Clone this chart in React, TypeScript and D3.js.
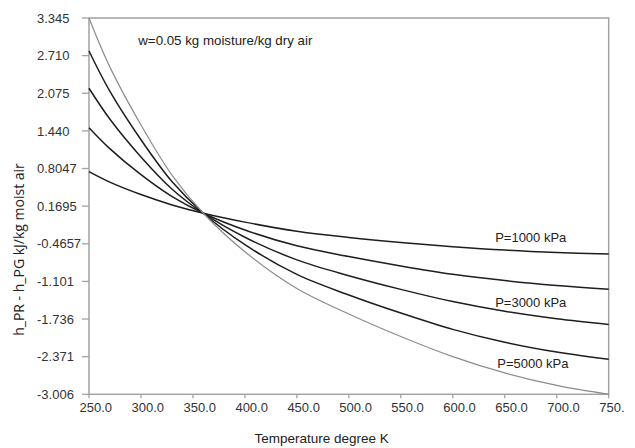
import React from "react";
import * as d3 from "d3";

// Temperatures (K) at which the curves were read
const temps = [250, 270, 300, 330, 360, 400, 450, 500, 550, 600, 650, 700, 750];

// h_PR - h_PG (kJ/kg moist air) for each pressure curve
const p1000 = [0.752, 0.575, 0.365, 0.19, 0.05, -0.1, -0.255, -0.358, -0.443, -0.514, -0.572, -0.612, -0.638];
const p2000 = [1.493, 1.14, 0.7, 0.33, 0.05, -0.233, -0.5, -0.681, -0.84, -0.981, -1.087, -1.17, -1.234];
const p3000 = [2.159, 1.64, 1.0, 0.455, 0.05, -0.356, -0.737, -1.004, -1.235, -1.441, -1.605, -1.731, -1.826];
const p4000 = [2.788, 2.11, 1.29, 0.58, 0.05, -0.48, -0.983, -1.33, -1.635, -1.91, -2.128, -2.294, -2.416];
const p5000 = [3.345, 2.52, 1.54, 0.69, 0.05, -0.6, -1.22, -1.65, -2.03, -2.37, -2.645, -2.855, -3.006];

const seriesList = [p1000, p2000, p3000, p4000, p5000];
const seriesColors = ["#1e1e1e", "#1e1e1e", "#1e1e1e", "#1e1e1e", "#8c8c8c"];
const seriesWidths = [1.5, 1.5, 1.5, 1.5, 1.2];

const xTickValues = [250, 300, 350, 400, 450, 500, 550, 600, 650, 700, 750];
const xTickLabels = ["250.0", "300.0", "350.0", "400.0", "450.0", "500.0", "550.0", "600.0", "650.0", "700.0", "750."];
const yTickLabels = ["3.345", "2.710", "2.075", "1.440", "0.8047", "0.1695", "-0.4657", "-1.101", "-1.736", "-2.371", "-3.006"];

// annotation labels (data coordinates)
const curveLabels = ["P=1000 kPa", "P=3000 kPa", "P=5000 kPa"];
const curveLabelT = [675, 675, 677];
const curveLabelV = [-0.436, -1.528, -2.567];
const noteText = "w=0.05 kg moisture/kg dry air";
const noteT = 297.4;
const noteV = 2.889;

const xTitle = "Temperature degree K";
const yTitle = "h_PR - h_PG kJ/kg moist air";

export default function App() {
  const W = 635;
  const H = 448;
  const left = 89, right = 608.7, top = 18, bottom = 394.3;
  const x = d3.scaleLinear().domain([250, 750]).range([left, right]);
  const y = d3.scaleLinear().domain([-3.006, 3.345]).range([bottom, top]);
  const line = d3
    .line<number>()
    .x((_, i) => x(temps[i]))
    .y((d) => y(d))
    .curve(d3.curveCatmullRom.alpha(0.5));

  const axisColor = "#a3a3a3";
  const font = "'Liberation Sans', Arial, sans-serif";

  return (
    <svg
      width={W}
      height={H}
      style={{ position: "absolute", left: 0, top: 0, background: "#fff" }}
      fontFamily={font}
    >
      <rect x={0} y={0} width={W} height={H} fill="#fff" />
      {/* frame */}
      <rect x={left} y={top} width={right - left} height={bottom - top} fill="none" stroke={axisColor} strokeWidth={1.5} />
      {/* y ticks */}
      {yTickLabels.map((lab, i) => {
        const v = parseFloat(lab);
        const yy = y(v);
        return (
          <g key={"y" + i}>
            <line x1={left - 7} x2={left} y1={yy} y2={yy} stroke={axisColor} strokeWidth={1.3} />
            <text x={37} y={yy} dy="0.36em" fontSize={13} fill="#333">
              {lab}
            </text>
          </g>
        );
      })}
      {/* x ticks */}
      {xTickValues.map((v, i) => (
        <g key={"x" + i}>
          <line x1={x(v)} x2={x(v)} y1={bottom} y2={bottom + 4} stroke={axisColor} strokeWidth={1.3} />
          <text x={x(v) - 9.5} y={bottom + 18} fontSize={13} fill="#333">
            {xTickLabels[i]}
          </text>
        </g>
      ))}
      {/* curves */}
      {seriesList.map((s, i) => (
        <path key={"s" + i} d={line(s) || ""} fill="none" stroke={seriesColors[i]} strokeWidth={seriesWidths[i]} />
      ))}
      {/* curve labels */}
      {curveLabels.map((lab, i) => (
        <text key={"cl" + i} x={x(curveLabelT[i])} y={y(curveLabelV[i])} fontSize={13} textAnchor="middle" fill="#222">
          {lab}
        </text>
      ))}
      <text x={x(noteT)} y={y(noteV)} fontSize={13.3} fill="#222">
        {noteText}
      </text>
      {/* axis titles */}
      <text x={321.7} y={443} fontSize={13.5} textAnchor="middle" fill="#222">
        {xTitle}
      </text>
      <text
        transform={`translate(24,249.5) rotate(-90)`}
        fontSize={14}
        textAnchor="middle"
        fontFamily="'Open Sans', sans-serif"
        fill="#222"
      >
        {yTitle}
      </text>
    </svg>
  );
}
